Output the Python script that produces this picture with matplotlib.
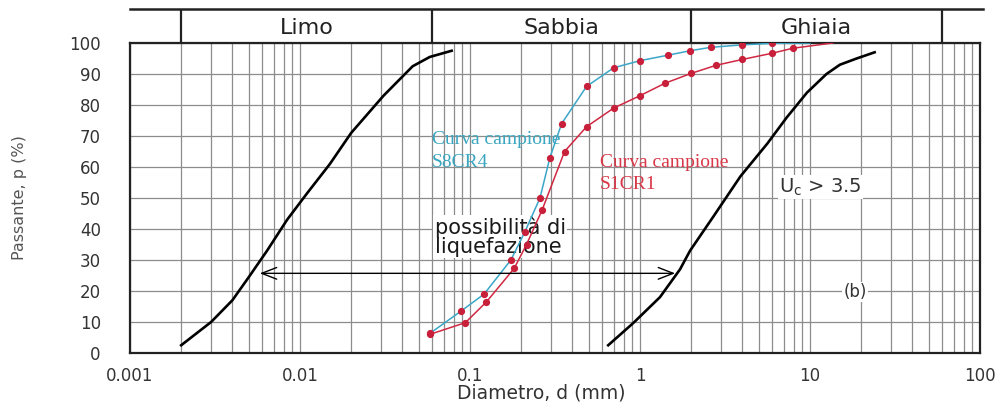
import numpy as np
import matplotlib
matplotlib.use("Agg")
import matplotlib.pyplot as plt

# fuso granulometrico - limiti e curve campione
d_lim_fine = [0.002, 0.003, 0.004, 0.005, 0.0064, 0.0084, 0.011, 0.015, 0.02, 0.031, 0.046, 0.058, 0.078]
p_lim_fine = [2.5, 10, 17, 24.5, 33, 43, 51.5, 61, 71, 83, 92.5, 95.5, 97.5]

d_lim_coarse = [0.65, 0.91, 1.31, 1.72, 1.97, 2.7, 3.9, 5.6, 7.3, 9.6, 12.5, 15, 18.8, 24]
p_lim_coarse = [2.5, 9.6, 18, 27, 33, 44, 57, 67.5, 76, 84, 90, 93, 95, 97]

d_s8cr4 = [0.058, 0.089, 0.121, 0.174, 0.21, 0.258, 0.295, 0.346, 0.485, 0.70, 1.0, 1.47, 1.97, 2.6, 4.0, 6.0]
p_s8cr4 = [6.3, 13.6, 19, 30, 39, 50, 63, 74, 86, 92, 94.3, 96.1, 97.5, 98.6, 99.4, 99.9]

d_s1cr1 = [0.058, 0.094, 0.125, 0.182, 0.215, 0.265, 0.36, 0.485, 0.70, 1.0, 1.4, 2.0, 2.8, 4.0, 6.0, 7.9]
p_s1cr1 = [6.0, 9.8, 16.5, 27.3, 35, 46, 65, 73, 79, 83, 87, 90.2, 92.8, 94.7, 96.7, 98.3]

bounds = [0.002, 0.06, 2, 60]
classes = ["Limo", "Sabbia", "Ghiaia"]

arrow_y = 25.7
arrow_from = 0.0058
arrow_to = 1.61

plt.rcParams['font.family'] = ['DejaVu Sans']

W, H = 1008, 407
fig = plt.figure(figsize=(W / 100, H / 100), dpi=100)
ax = fig.add_axes([130 / W, 1 - 353 / H, 850 / W, 310 / H])

ax.set_xscale('log')
ax.set_xlim(0.001, 100)
ax.set_ylim(0, 100)
ax.set_yticks(np.arange(0, 101, 10))
ax.set_xticks([0.001, 0.01, 0.1, 1, 10, 100])
ax.set_xticklabels(["0.001", "0.01", "0.1", "1", "10", "100"])
ax.tick_params(which='both', length=0, labelsize=12, colors='#333333')
ax.tick_params(axis='y', pad=21)
ax.tick_params(axis='x', pad=10)
ax.grid(True, which='major', axis='y', color='#8c8c8c', lw=0.9)
ax.grid(True, which='both', axis='x', color='#8c8c8c', lw=0.9)
ax.set_axisbelow(True)
for s in ax.spines.values():
    s.set_linewidth(1.6)
    s.set_color('#222222')

# limiti del fuso
ax.plot(d_lim_fine, p_lim_fine, color='black', lw=1.9, zorder=3)
ax.plot(d_lim_coarse, p_lim_coarse, color='black', lw=1.9, zorder=3)

# curve campione
ax.plot(d_s8cr4 + [10], p_s8cr4 + [100], color='#3aa6c8', lw=1.1, zorder=3)
ax.plot(d_s8cr4, p_s8cr4, ls='none', marker='o', ms=4.2, color='#c8203a', zorder=4)
ax.plot(d_s1cr1 + [13.6], p_s1cr1 + [100], color='#d02842', lw=1.1, zorder=3)
ax.plot(d_s1cr1, p_s1cr1, ls='none', marker='o', ms=4.2, color='#c8203a', zorder=4)

ax.annotate('', xy=(arrow_to, arrow_y), xytext=(arrow_from, arrow_y),
            arrowprops=dict(arrowstyle='<->,head_length=0.9,head_width=0.35',
                            lw=1.0, color='black', mutation_scale=12,
                            shrinkA=0, shrinkB=0))

wbox = dict(facecolor='white', edgecolor='none', pad=1)
ax.text(0.062, 37.6, "possibilità di\nliquefazione", fontsize=15, color='#1a1a1a',
        va='center', ha='left', linespacing=0.95, bbox=wbox, zorder=2.5)
ax.text(6.6, 53.5, r"U$_\mathrm{c}$ > 3.5", fontsize=14, color='#333333',
        va='center', ha='left', bbox=wbox, zorder=2.5)
ax.text(18.5, 19.7, "(b)", fontsize=12, color='#333333',
        va='center', ha='center', bbox=wbox, zorder=2.5)

ax.text(0.0595, 65.2, "Curva campione\nS8CR4", family='Liberation Serif', fontsize=14,
        color='#3aa6c0', va='center', ha='left', linespacing=1.45)
ax.text(0.58, 57.9, "Curva campione\nS1CR1", family='Liberation Serif', fontsize=14,
        color='#d83848', va='center', ha='left', linespacing=1.45)

# fascia con le classi granulometriche
band = fig.add_axes([130 / W, 1 - 43 / H, 853 / W, 34 / H])
band.set_xscale('log')
band.set_xlim(0.001, 100 * 10 ** (3 / 170))
band.set_ylim(0, 1)
band.set_xticks([])
band.set_yticks([])
band.minorticks_off()
band.patch.set_alpha(0)
band.spines['left'].set_visible(False)
band.spines['right'].set_visible(False)
band.spines['bottom'].set_visible(False)
band.spines['top'].set_linewidth(1.8)
band.spines['top'].set_color('#222222')
for b in bounds:
    band.axvline(b, color='#222222', lw=1.6)
for i, c in enumerate(classes):
    xc = np.sqrt(bounds[i] * bounds[i + 1])
    band.text(xc, 0.45, c, fontsize=16, color='#222222', ha='center', va='center')

fig.text(541 / W, 1 - 393 / H, "Diametro, d (mm)", fontsize=13.5, color='#333333',
         ha='center', va='center')
fig.text(20 / W, 1 - 198 / H, "Passante, p (%)", fontsize=11.5, color='#555555',
         ha='center', va='center', rotation=90)

fig.savefig("out.png", dpi=100)
